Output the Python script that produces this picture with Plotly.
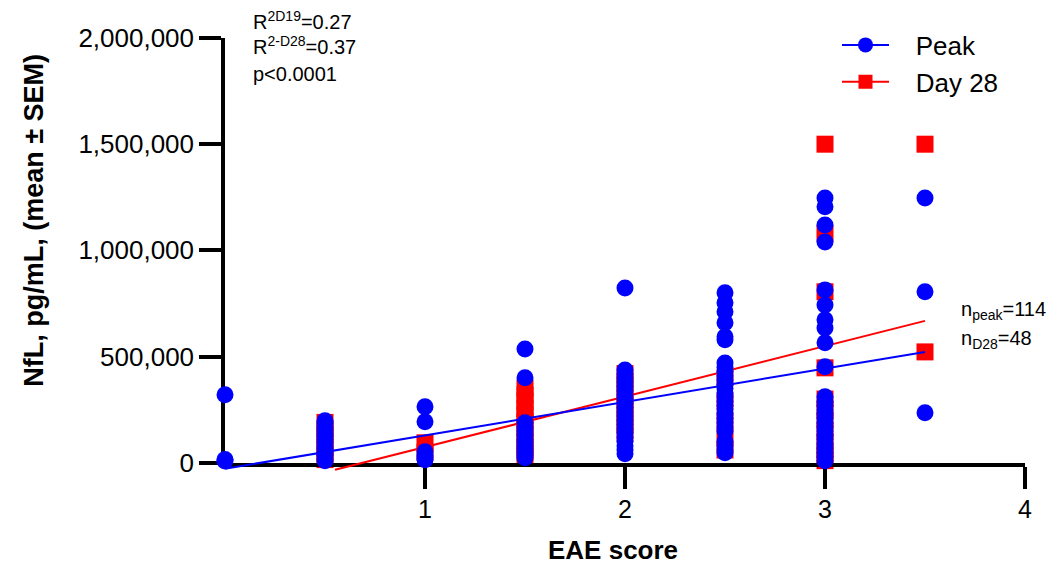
import plotly.graph_objects as go

# ---- data ----
peak_score = ([0] * 3 + [0.5] * 14 + [1] * 6 + [1.5] * 13 + [2] * 22 +
              [2.5] * 27 + [3] * 26 + [3.5] * 3)
peak_nfl = [
    320000, 15000, 8000,
    198000, 185000, 170000, 155000, 140000, 125000, 110000, 95000, 80000, 65000, 50000, 35000, 20000, 10000,
    264000, 193000, 52000, 35000, 25000, 14000,
    536000, 400000, 188000, 170000, 150000, 130000, 110000, 95000, 80000, 65000, 50000, 35000, 24000,
    823000, 437000, 420000, 400000, 380000, 360000, 340000, 320000, 300000, 280000, 260000, 240000,
    220000, 200000, 180000, 160000, 140000, 120000, 100000, 80000, 60000, 42000,
    800000, 753000, 711000, 659000, 593000, 579000, 470000, 450000, 430000, 410000, 390000, 370000,
    350000, 330000, 310000, 290000, 270000, 250000, 230000, 210000, 190000, 170000, 150000, 100000,
    80000, 60000, 47000,
    1247000, 1205000, 1120000, 1040000, 814000, 743000, 673000, 635000, 565000, 452000, 311000, 290000,
    270000, 250000, 230000, 210000, 190000, 170000, 150000, 130000, 110000, 90000, 70000, 50000, 30000, 10000,
    1247000, 805000, 235000,
]

d28_score = ([0.5] * 7 + [1] * 2 + [1.5] * 12 + [2] * 8 + [2.5] * 5 + [3] * 12 + [3.5] * 2)
d28_nfl = [
    190000, 160000, 130000, 100000, 70000, 40000, 15000,
    94000, 50000,
    353000, 320000, 290000, 255000, 225000, 195000, 165000, 135000, 105000, 80000, 50000, 28000,
    420000, 380000, 340000, 300000, 260000, 220000, 180000, 140000,
    400000, 290000, 200000, 122000, 60000,
    1500000, 1080000, 805000, 447000, 300000, 250000, 200000, 150000, 100000, 60000, 30000, 10000,
    1500000, 522000,
]

peak_fit_x = [0, 3.5]
peak_fit_y = [-28000, 522000]
d28_fit_x = [0.55, 3.5]
d28_fit_y = [-33000, 668000]

x_ticks = [1, 2, 3, 4]
y_ticks = [0, 500000, 1000000, 1500000, 2000000]
y_min, y_max = -100000, 2000000

BLUE = "#0000FF"
RED = "#FF0000"
FONT = "Liberation Sans, Arial, sans-serif"
GAP = "&nbsp;&nbsp;&nbsp;"

zero_frac = (0 - y_min) / (y_max - y_min)

fig = go.Figure()
# bottom subplot (x, y): Day 28 markers
fig.add_trace(go.Scatter(x=d28_score, y=d28_nfl, mode="markers", showlegend=False,
                         marker=dict(symbol="square", size=17, color=RED, line=dict(width=0)),
                         cliponaxis=False, xaxis="x", yaxis="y"))
# top subplot (x2, y2, same scale, range extends below 0): fit lines and Peak markers
fig.add_trace(go.Scatter(x=d28_fit_x, y=d28_fit_y, mode="lines", showlegend=False,
                         line=dict(color=RED, width=2), xaxis="x2", yaxis="y2"))
fig.add_trace(go.Scatter(x=peak_fit_x, y=peak_fit_y, mode="lines", showlegend=False,
                         line=dict(color=BLUE, width=2), xaxis="x2", yaxis="y2"))
fig.add_trace(go.Scatter(x=peak_score, y=peak_nfl, mode="markers", showlegend=False,
                         marker=dict(symbol="circle", size=17, color=BLUE, line=dict(width=0)),
                         cliponaxis=False, xaxis="x2", yaxis="y2"))
# legend entries
fig.add_trace(go.Scatter(x=[None], y=[None], mode="lines+markers", name=GAP + "Peak",
                         line=dict(color=BLUE, width=2),
                         marker=dict(symbol="circle", size=15, color=BLUE)))
fig.add_trace(go.Scatter(x=[None], y=[None], mode="lines+markers", name=GAP + "Day 28",
                         line=dict(color=RED, width=2),
                         marker=dict(symbol="square", size=14, color=RED)))

# the page body has an 8px margin, so the figure is shifted 8px right/down
fig.update_layout(
    width=1055, height=556,
    margin=dict(l=217, r=38, t=30, b=80),
    paper_bgcolor="white", plot_bgcolor="rgba(0,0,0,0)",
    font=dict(family=FONT, color="black", size=25),
    legend=dict(x=0.765, y=1.037, xanchor="left", yanchor="top",
                font=dict(family=FONT, size=26, color="black"),
                bgcolor="rgba(0,0,0,0)", itemwidth=47),
    xaxis=dict(range=[0, 4], tickvals=x_ticks, ticktext=[str(t) for t in x_ticks],
               showgrid=False, zeroline=False, showline=True, linecolor="black", linewidth=3.5,
               ticks="outside", ticklen=22, tickwidth=3.5, tickcolor="black",
               anchor="y", ticklabelstandoff=-1,
               tickfont=dict(family=FONT, size=25, color="black")),
    yaxis=dict(range=[0, y_max], domain=[zero_frac, 1], tickvals=y_ticks, tickformat=",d",
               showgrid=False, zeroline=False, showline=True, linecolor="black", linewidth=3.5,
               ticks="outside", ticklen=22, tickwidth=3.5, tickcolor="black", anchor="x",
               tickfont=dict(family=FONT, size=26, color="black")),
    xaxis2=dict(range=[0, 4], matches="x", anchor="y2", visible=False),
    yaxis2=dict(range=[y_min, y_max], domain=[0, 1], anchor="x2", visible=False),
)

ann_font = dict(family=FONT, size=20, color="black")
fig.add_annotation(xref="paper", yref="paper", x=0.033, y=1.040, xanchor="left", yanchor="middle",
                   text="R<sup>2D19</sup>=0.27", showarrow=False, font=ann_font)
fig.add_annotation(xref="paper", yref="paper", x=0.033, y=0.984, xanchor="left", yanchor="middle",
                   text="R<sup>2-D28</sup>=0.37", showarrow=False, font=ann_font)
fig.add_annotation(xref="paper", yref="paper", x=0.033, y=0.920, xanchor="left", yanchor="middle",
                   text="p&lt;0.0001", showarrow=False, font=ann_font)
fig.add_annotation(xref="paper", yref="paper", x=0.917, y=0.39, xanchor="left", yanchor="middle",
                   text="n<sub>peak</sub>=114", showarrow=False, font=ann_font)
fig.add_annotation(xref="paper", yref="paper", x=0.917, y=0.325, xanchor="left", yanchor="middle",
                   text="n<sub>D28</sub>=48", showarrow=False, font=ann_font)

fig.add_annotation(xref="paper", yref="paper", x=0.485, y=-0.148, xanchor="center", yanchor="middle",
                   text="<b>EAE score</b>", showarrow=False,
                   font=dict(family=FONT, size=26, color="black"))
fig.add_annotation(xref="paper", yref="paper", x=-0.239, y=0.592, xanchor="center", yanchor="middle",
                   text="<b>NfL, pg/mL, (mean ± SEM)</b>", showarrow=False, textangle=-90,
                   font=dict(family=FONT, size=27, color="black"))

fig.write_html("out.html")
